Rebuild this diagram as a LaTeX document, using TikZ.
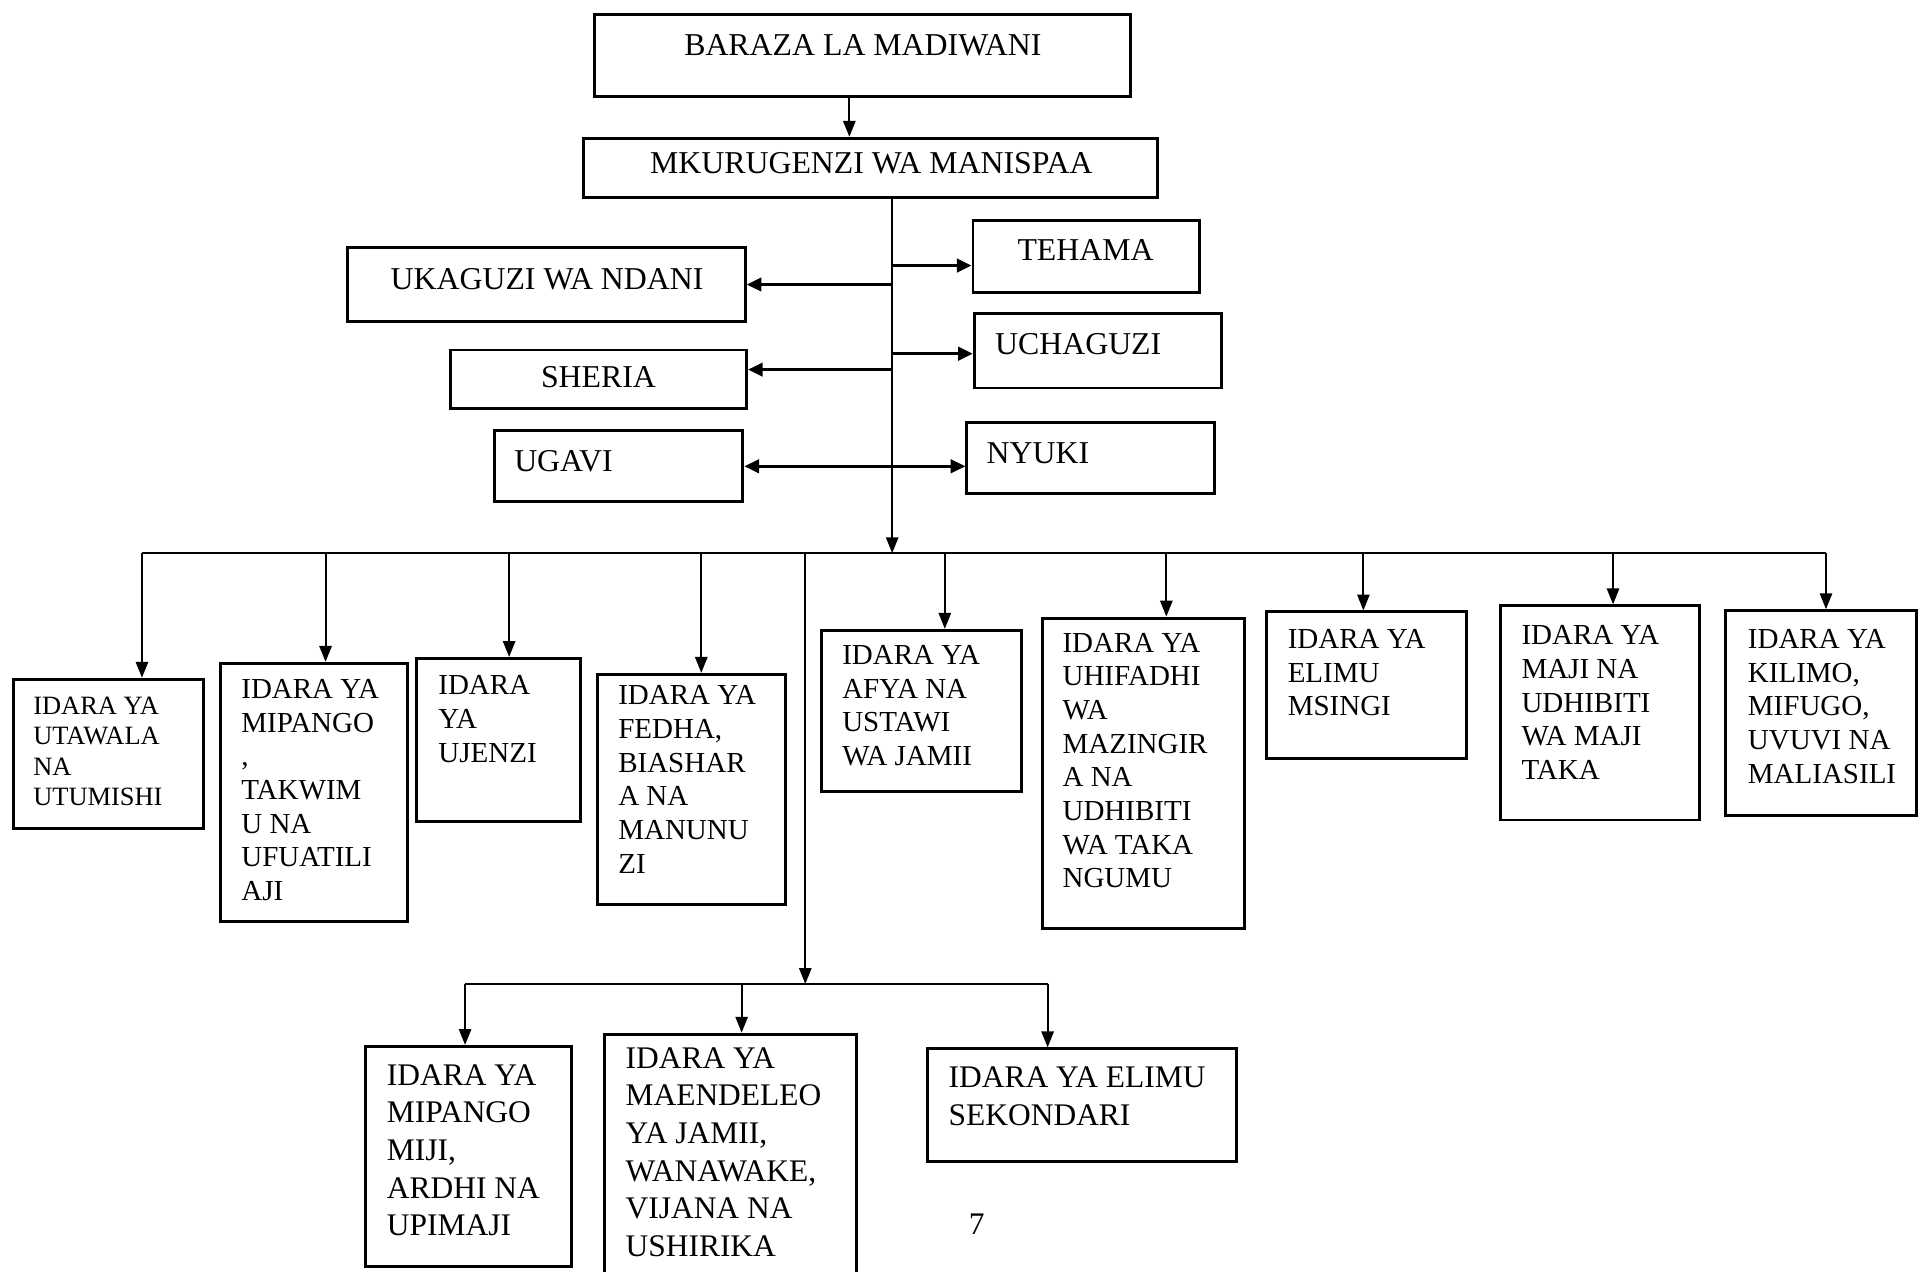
\documentclass[tikz,border=0pt]{standalone}
\usepackage{fontspec}
\setmainfont{Liberation Serif}
\usetikzlibrary{arrows.meta}
\begin{document}
\begin{tikzpicture}[x=1pt,y=-1pt,
  box/.style={draw, line width=2.4pt, inner sep=0pt},
  toptxt/.style={font=\fontsize{26}{30}\selectfont, inner sep=0pt},
  rowtxt/.style={font=\fontsize{23.7}{27.5}\selectfont, align=left, anchor=north west, inner sep=0pt},
  smalltxt/.style={font=\fontsize{21.6}{25}\selectfont, align=left, anchor=north west, inner sep=0pt},
  bottxt/.style={font=\fontsize{25.7}{30.8}\selectfont, align=left, anchor=north west, inner sep=0pt},
  conn/.style={line width=1.7pt},
  arr/.style={conn, -{Triangle[length=13pt,width=10pt]}},
  sidearr/.style={line width=2.4pt, -{Triangle[length=12pt,width=11pt]}},
  dblarr/.style={line width=2.2pt, {Triangle[length=12pt,width=11pt]}-{Triangle[length=12pt,width=11pt]}}
]
\fill[white] (0,0) rectangle (1568,1039);
\useasboundingbox (0,0) rectangle (1568,1039);

% ---- boxes ----
\node[box, minimum width=438pt, minimum height=67pt] (baraza) at (705,45.5) {};
\node[box, minimum width=469pt, minimum height=48pt] (mkur) at (711.5,137) {};
\node[box, minimum width=185pt, minimum height=59pt] (tehama) at (887.5,209.5) {};
\node[box, minimum width=325pt, minimum height=61pt] (ukag) at (446.5,232.5) {};
\node[box, minimum width=202pt, minimum height=61pt] (uchag) at (897,286.5) {};
\node[box, minimum width=242pt, minimum height=48pt] (sheria) at (489,310) {};
\node[box, minimum width=203pt, minimum height=58pt] (ugavi) at (505.5,381) {};
\node[box, minimum width=202pt, minimum height=58pt] (nyuki) at (891,374) {};

\node[box, minimum width=155pt, minimum height=122pt] (r1) at (88.5,616) {};
\node[box, minimum width=153pt, minimum height=211pt] (r2) at (256.5,647.5) {};
\node[box, minimum width=134pt, minimum height=133pt] (r3) at (407,604.5) {};
\node[box, minimum width=154pt, minimum height=188pt] (r4) at (565,645) {};
\node[box, minimum width=164pt, minimum height=132pt] (r6) at (753,581) {};
\node[box, minimum width=165pt, minimum height=254pt] (r7) at (934.5,632) {};
\node[box, minimum width=163pt, minimum height=120pt] (r8) at (1116.5,560) {};
\node[box, minimum width=163pt, minimum height=175pt] (r9) at (1307.5,582.5) {};
\node[box, minimum width=156pt, minimum height=167pt] (r10) at (1488,582.5) {};

\node[box, minimum width=168pt, minimum height=180pt] (b1) at (383,945) {};
\node[box, minimum width=206pt, minimum height=201pt] (b2) at (597,945.5) {};
\node[box, minimum width=252pt, minimum height=92pt] (b3) at (884,903) {};

% ---- texts ----
\node[toptxt] (tbaraza) at (705,37) {BARAZA LA MADIWANI};
\node[toptxt] (tmkur) at (712,133) {MKURUGENZI WA MANISPAA};
\node[toptxt] (tukag) at (447,228) {UKAGUZI WA NDANI};
\node[toptxt] (ttehama) at (887,204) {TEHAMA};
\node[toptxt] (tuchag) at (881,281) {UCHAGUZI};
\node[toptxt] (tsheria) at (489,308) {SHERIA};
\node[toptxt, anchor=west] (tugavi) at (420,377) {UGAVI};
\node[toptxt, anchor=west] (tnyuki) at (806,370) {NYUKI};

\node[smalltxt] (tr1) at (27,569) {IDARA YA\\UTAWALA\\NA\\UTUMISHI};
\node[rowtxt] (tr2) at (197,555) {IDARA YA\\MIPANGO\\,\\TAKWIM\\U NA\\UFUATILI\\AJI};
\node[rowtxt] (tr3) at (358,552) {IDARA\\YA\\UJENZI};
\node[rowtxt] (tr4) at (505,560) {IDARA YA\\FEDHA,\\BIASHAR\\A NA\\MANUNU\\ZI};
\node[rowtxt] (tr6) at (688,527) {IDARA YA\\AFYA NA\\USTAWI\\WA JAMII};
\node[rowtxt] (tr7) at (868,517) {IDARA YA\\UHIFADHI\\WA\\MAZINGIR\\A NA\\UDHIBITI\\WA TAKA\\NGUMU};
\node[rowtxt] (tr8) at (1052,514) {IDARA YA\\ELIMU\\MSINGI};
\node[rowtxt] (tr9) at (1243,511) {IDARA YA\\MAJI NA\\UDHIBITI\\WA MAJI\\TAKA};
\node[rowtxt] (tr10) at (1428,514) {IDARA YA\\KILIMO,\\MIFUGO,\\UVUVI NA\\MALIASILI};

\node[bottxt] (tb1) at (316,869.5) {IDARA YA\\MIPANGO\\MIJI,\\ARDHI NA\\UPIMAJI};
\node[bottxt] (tb2) at (511,855.5) {IDARA YA\\MAENDELEO\\YA JAMII,\\WANAWAKE,\\VIJANA NA\\USHIRIKA};
\node[bottxt] (tb3) at (775,871.5) {IDARA YA ELIMU\\SEKONDARI};

\node[bottxt, anchor=center] (pg) at (798,1000) {7};

% ---- connector coordinates ----
\coordinate (t0) at (694,0);
\coordinate (tb) at (729,452);
\coordinate (d1) at (116,452);
\coordinate (d2) at (266,452);
\coordinate (d3) at (416,452);
\coordinate (d4) at (573,452);
\coordinate (d5) at (658,452);
\coordinate (d6) at (772,452);
\coordinate (d7) at (953,452);
\coordinate (d8) at (1114,452);
\coordinate (d9) at (1318,452);
\coordinate (d10) at (1492,452);
\coordinate (e1) at (380,804);
\coordinate (e2) at (606,804);
\coordinate (e3) at (856,804);

% ---- connectors ----
\draw[arr] (baraza.south -| t0) -- (mkur.north -| t0);
\draw[arr] (mkur.south -| tb) -- (tb);

\draw[sidearr] ([yshift=-7.5pt]tehama.west -| tb) -- ([yshift=-7.5pt]tehama.west);
\draw[sidearr] (ukag.east -| tb) -- (ukag.east);
\draw[sidearr] ([yshift=-2.5pt]uchag.west -| tb) -- ([yshift=-2.5pt]uchag.west);
\draw[sidearr] ([yshift=8pt]sheria.east -| tb) -- ([yshift=8pt]sheria.east);
\draw[dblarr] (ugavi.east) -- (nyuki.west |- ugavi.east);

\draw[line width=2pt] (d1) -- (d10);
\draw[arr] (d1) -- (d1 |- r1.north);
\draw[arr] (d2) -- (d2 |- r2.north);
\draw[arr] (d3) -- (d3 |- r3.north);
\draw[arr] (d4) -- (d4 |- r4.north);
\draw[arr] (d6) -- (d6 |- r6.north);
\draw[arr] (d7) -- (d7 |- r7.north);
\draw[arr] (d8) -- (d8 |- r8.north);
\draw[arr] (d9) -- (d9 |- r9.north);
\draw[arr] (d10) -- (d10 |- r10.north);

\draw[arr] (d5) -- (d5 |- e1);
\draw[line width=1.9pt] (e1) -- (e3);
\draw[arr] (e1) -- (e1 |- b1.north);
\draw[arr] (e2) -- (e2 |- b2.north);
\draw[arr] (e3) -- (e3 |- b3.north);
\end{tikzpicture}
\end{document}
